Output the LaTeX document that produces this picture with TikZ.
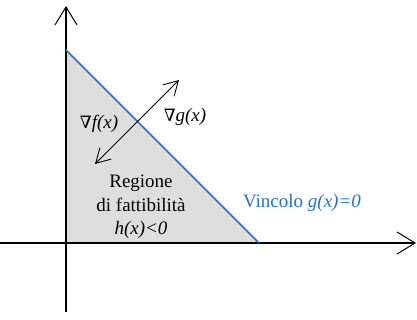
\documentclass[tikz,border=0pt]{standalone}
\usepackage{fontspec}
\newfontfamily\tnr{Liberation Serif}
\newfontfamily\dvs{DejaVu Serif}
\usepackage{xcolor}
\usepackage{tikz}
\usetikzlibrary{arrows.meta, positioning}

\definecolor{vincolo}{RGB}{35,112,210}
\definecolor{regione}{RGB}{222,222,222}
\newcommand{\nab}{{\dvs\itshape\fontsize{17}{17}\selectfont ∇}}

\tikzset{
    asse/.style={line width=1.1pt, -{Straight Barb[length=18pt,width=22pt,line width=1pt]}},
    grad/.style={line width=0.9pt, {Straight Barb[length=14pt,width=16pt,line width=0.9pt]}-{Straight Barb[length=14pt,width=16pt,line width=0.9pt]}},
    testo/.style={font=\tnr\fontsize{19}{23.5}\selectfont, inner sep=1pt}
}

\begin{document}
\begin{tikzpicture}[x=1pt, y=1pt]
    \useasboundingbox (0,0) rectangle (417,320);
    % Punti della regione
    \coordinate (O) at (66,77);
    \coordinate (A) at (66,270);
    \coordinate (B) at (259,77);
    
    % Regione di fattibilita
    \fill[regione] (O) -- (A) -- (B) -- cycle;
    
    % Assi
    \coordinate (xs) at (0,77);
    \coordinate (xe) at (416,77);
    \coordinate (ys) at (66,8);
    \coordinate (ye) at (66,314);
    \draw[asse] (xs) -- (xe);
    \draw[asse] (ys) -- (ye);
    
    % Vincolo
    \draw[vincolo, line width=1.6pt] (A) -- (B);
    
    % Gradienti
    \coordinate (g1) at (95,156);
    \coordinate (g2) at (179,240);
    \draw[grad] (g1) -- (g2);
    \node[testo] (nf) at (99,196) {\nab\textit{f(x)}};
    \node[testo] (ng) at (185,203) {\nab\textit{g(x)}};
    
    % Testi
    \node[testo, align=center] (reg) at (141,113) {Regione\\di fattibilità\\\textit{h(x)<0}};
    \node[testo, text=vincolo] (vin) at (302,117) {Vincolo \textit{g(x)=0}};
\end{tikzpicture}
\end{document}
